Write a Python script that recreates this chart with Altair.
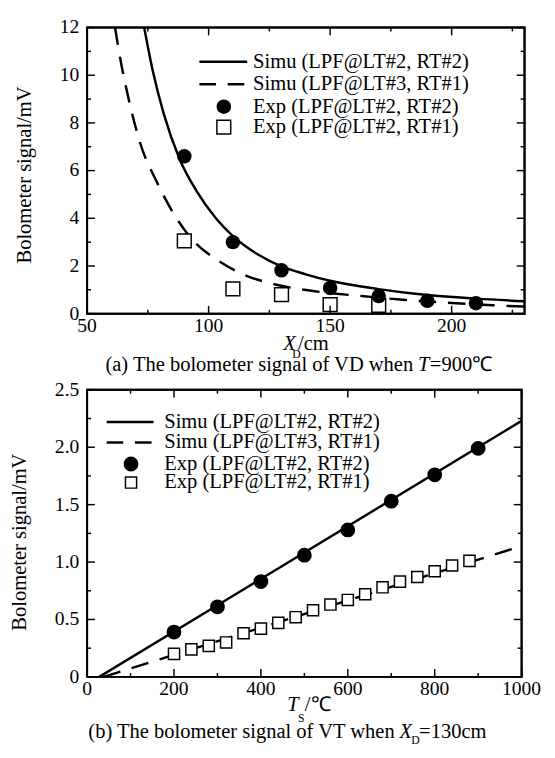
import altair as alt
import pandas as pd

FONT = "Liberation Serif"
FS = 21

# ---------------- panel (a): bolometer signal vs distance ----------------
a_sim2_x = [73.5, 77, 81.5, 88, 95, 103, 110, 120, 130, 140, 150, 170, 190, 210, 230]
a_sim2_y = [12.0, 10.2, 8.4, 6.5, 5.15, 4.0, 3.25, 2.5, 1.98, 1.65, 1.38, 1.03, 0.78, 0.63, 0.52]
a_sim1_x = [61.5, 64, 67, 71.7, 78.8, 85.9, 92.9, 104.3, 114.2, 128.4, 143, 165, 180, 200, 217, 230]
a_sim1_y = [12.0, 10.5, 9.05, 7.2, 5.5, 4.15, 3.15, 2.2, 1.65, 1.2, 0.95, 0.72, 0.58, 0.45, 0.35, 0.30]
a_exp2_x = [90, 110, 130, 150, 170, 190, 210]
a_exp2_y = [6.6, 3.0, 1.82, 1.08, 0.74, 0.54, 0.44]
a_exp1_x = [90, 110, 130, 150, 170]
a_exp1_y = [3.05, 1.04, 0.80, 0.38, 0.35]

a_x_major = [50, 100, 150, 200]
a_x_labels = ["50", "100", "150", "200"]
a_x_minor = [75, 125, 175, 225]
a_y_major = [0, 2, 4, 6, 8, 10, 12]
a_y_labels = ["0", "2", "4", "6", "8", "10", "12"]
a_y_minor = [1, 3, 5, 7, 9, 11]

# ---------------- panel (b): bolometer signal vs temperature ----------------
b_sim2_x = [28, 1000]
b_sim2_y = [0.0, 2.23]
b_sim1_x = [38, 1000]
b_sim1_y = [0.0, 1.14]
b_exp2_x = [200, 300, 400, 500, 600, 700, 800, 900]
b_exp2_y = [0.39, 0.61, 0.83, 1.06, 1.28, 1.53, 1.76, 1.99]
b_exp1_x = [200, 240, 280, 320, 360, 400, 440, 480, 520, 560, 600, 640, 680, 720, 760, 800, 840, 880]
b_exp1_y = [0.20, 0.24, 0.27, 0.30, 0.38, 0.42, 0.47, 0.52, 0.58, 0.63, 0.67, 0.72, 0.78, 0.83, 0.87, 0.92, 0.97, 1.01]

b_x_major = [0, 200, 400, 600, 800, 1000]
b_x_labels = ["0", "200", "400", "600", "800", "1000"]
b_x_minor = [100, 300, 500, 700, 900]
b_y_major = [0, 0.5, 1.0, 1.5, 2.0, 2.5]
b_y_labels = ["0", "0.5", "1.0", "1.5", "2.0", "2.5"]
b_y_minor = [0.25, 0.75, 1.25, 1.75, 2.25]

legend_labels = [
    "Simu (LPF@LT#2, RT#2)",
    "Simu (LPF@LT#3, RT#1)",
    "Exp (LPF@LT#2, RT#2)",
    "Exp (LPF@LT#2, RT#1)",
]
y_title = "Bolometer signal/mV"


def df_xy(xs, ys):
    return pd.DataFrame({"x": xs, "y": ys})


def one():
    return pd.DataFrame({"k": [0]})


def text(s, x, y, size=FS, style="normal", align="left", baseline="alphabetic", angle=0):
    return alt.Chart(pd.DataFrame({"t": [s]})).mark_text(
        font=FONT, fontSize=size, fontStyle=style, align=align,
        baseline=baseline, color="black", angle=angle
    ).encode(text="t:N", x=alt.value(x), y=alt.value(y))


def panel(W, H, xdom, ydom, sim2, sim1, exp2, exp1, xmaj, xlab, xmin, ymaj, ylab, ymin,
          ytitle_pos, leg, circ_size, sq_size, dash, texts):
    xs = alt.Scale(domain=xdom, nice=False, zero=False)
    ys = alt.Scale(domain=ydom, nice=False, zero=False)

    def X():
        return alt.X("x:Q", scale=xs, axis=None)

    def Y():
        return alt.Y("y:Q", scale=ys, axis=None)

    layers = []
    layers.append(
        alt.Chart(df_xy(*sim2)).mark_line(color="black", strokeWidth=2.5, clip=True,
                                          interpolate="monotone")
        .encode(x=X(), y=Y())
    )
    layers.append(
        alt.Chart(df_xy(*sim1)).mark_line(color="black", strokeWidth=2.5, clip=True,
                                          strokeDash=dash, interpolate="monotone")
        .encode(x=X(), y=Y())
    )
    layers.append(
        alt.Chart(df_xy(*exp1)).mark_point(shape="square", filled=True, fill="white",
                                           stroke="black", strokeWidth=1.5,
                                           size=sq_size, opacity=1)
        .encode(x=X(), y=Y())
    )
    layers.append(
        alt.Chart(df_xy(*exp2)).mark_point(shape="circle", filled=True, color="black",
                                           size=circ_size, opacity=1)
        .encode(x=X(), y=Y())
    )

    # plot frame: a closed line through the corners of the scale domains
    frame = pd.DataFrame({
        "x": [xdom[0], xdom[1], xdom[1], xdom[0], xdom[0]],
        "y": [ydom[0], ydom[0], ydom[1], ydom[1], ydom[0]],
        "o": [0, 1, 2, 3, 4],
    })
    layers.append(
        alt.Chart(frame).mark_line(color="black", strokeWidth=2, clip=False)
        .encode(x=X(), y=Y(), order="o:Q")
    )

    # inward ticks on all four sides, drawn as stroked path symbols
    for vals, S in ((xmaj, 256), (xmin, 64)):
        d = pd.DataFrame({"x": vals})
        for shp, yv in (("M0,0L0,-1", H), ("M0,0L0,1", 0)):
            layers.append(
                alt.Chart(d).mark_point(shape=shp, filled=False, color="black",
                                        strokeWidth=1.5, size=S, opacity=1)
                .encode(x=X(), y=alt.value(yv))
            )
    for vals, S in ((ymaj, 256), (ymin, 64)):
        d = pd.DataFrame({"y": vals})
        for shp, xv in (("M0,0L1,0", 0), ("M0,0L-1,0", W)):
            layers.append(
                alt.Chart(d).mark_point(shape=shp, filled=False, color="black",
                                        strokeWidth=1.5, size=S, opacity=1)
                .encode(y=Y(), x=alt.value(xv))
            )

    # tick labels placed through the scales
    layers.append(
        alt.Chart(pd.DataFrame({"x": xmaj, "t": xlab})).mark_text(
            font=FONT, fontSize=20, color="black", align="center", baseline="top")
        .encode(x=X(), y=alt.value(H + 3), text="t:N")
    )
    layers.append(
        alt.Chart(pd.DataFrame({"y": ymaj, "t": ylab})).mark_text(
            font=FONT, fontSize=20, color="black", align="right", baseline="middle")
        .encode(y=Y(), x=alt.value(-8), text="t:N")
    )
    # y-axis title
    layers.append(text(y_title, ytitle_pos[0], ytitle_pos[1], align="center",
                       baseline="middle", angle=270))

    # legend
    rows, lx1, lx2, sx, tx = leg
    layers.append(alt.Chart(one()).mark_rule(color="black", strokeWidth=2.5)
                  .encode(x=alt.value(lx1), x2=alt.value(lx2), y=alt.value(rows[0])))
    layers.append(alt.Chart(one()).mark_rule(color="black", strokeWidth=2.5, strokeDash=[17, 12])
                  .encode(x=alt.value(lx1), x2=alt.value(lx2), y=alt.value(rows[1])))
    layers.append(alt.Chart(one()).mark_point(shape="circle", filled=True, color="black",
                                              size=circ_size, opacity=1)
                  .encode(x=alt.value(sx), y=alt.value(rows[2])))
    layers.append(alt.Chart(one()).mark_point(shape="square", filled=True, fill="white",
                                              stroke="black", strokeWidth=1.5,
                                              size=sq_size, opacity=1)
                  .encode(x=alt.value(sx), y=alt.value(rows[3])))
    for lab, ry in zip(legend_labels, rows):
        layers.append(text(lab, tx, ry, baseline="middle"))

    for t in texts:
        layers.append(text(*t))

    return alt.layer(*layers).properties(width=W, height=H)


top = panel(
    448, 293, [50, 230], [0, 12],
    (a_sim2_x, a_sim2_y), (a_sim1_x, a_sim1_y), (a_exp2_x, a_exp2_y), (a_exp1_x, a_exp1_y),
    a_x_major, a_x_labels, a_x_minor, a_y_major, a_y_labels, a_y_minor,
    (-63, 151),
    ([35, 58, 81, 102], 115, 164, 140, 170), 220, 200, [18, 12],
    [
        ("X", 201, 330, FS, "italic"),
        ("D", 210, 338, 12),
        ("/cm", 216, 330),
        ("(a) The bolometer signal of VD when", 334, 352, FS, "normal", "right"),
        ("T", 339, 352, FS, "italic"),
        ("=900℃", 351, 352),
    ],
)

bottom = panel(
    445, 294, [0, 1000], [0, 2.5],
    (b_sim2_x, b_sim2_y), (b_sim1_x, b_sim1_y), (b_exp2_x, b_exp2_y), (b_exp1_x, b_exp1_y),
    b_x_major, b_x_labels, b_x_minor, b_y_major, b_y_labels, b_y_minor,
    (-69, 156),
    ([33, 54, 76, 95], 20, 68, 45, 79), 230, 130, [18, 12],
    [
        ("T", 205, 329, FS, "italic"),
        ("S", 216, 340, 12),
        ("/℃", 223, 329),
        ("(b) The bolometer signal of VT when", 315, 357, FS, "normal", "right"),
        ("X", 320, 357, FS, "italic"),
        ("D", 332, 363, 12),
        ("=130cm", 340, 357),
    ],
)

chart = alt.vconcat(top, bottom, spacing=3).properties(
    padding={"left": 0, "top": 0, "right": 5, "bottom": 0}
).configure_view(stroke="black", strokeWidth=2)

chart.save("out.html", embed_options={"renderer": "svg", "actions": False})
